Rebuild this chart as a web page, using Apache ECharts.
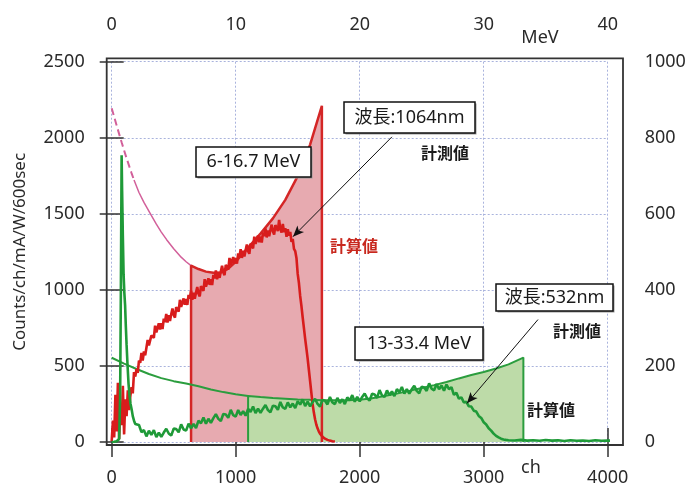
<!DOCTYPE html>
<html><head><meta charset="utf-8">
<script src="https://cdn.jsdelivr.net/npm/echarts@6/dist/echarts.min.js"></script>
<style>html,body{margin:0;padding:0;background:#fff}#c{width:696px;height:487px}</style>
</head><body><div id="c"></div><script>
// ---- data (ch, counts) ----
const chMin = 0, chMax = 4000, chInterval = 1000;
const mevMin = 0, mevMax = 40, mevInterval = 10;
const countsMin = 0, countsMax = 2500, countsInterval = 500;
const rightMin = 0, rightMax = 1000, rightInterval = 200;

// 1064 nm measured spectrum, every 10 ch starting at ch 0
const red1064Step = 10;
const red1064Values = [5,140,30,310,70,390,20,250,110,370,50,280,170,340,210,300,360,320,
460,430,480,455,535,520,585,535,595,570,620,670,635,625,700,705,685,765,720,710,
780,740,780,743,811,789,842,785,833,796,839,877,835,818,886,884,857,935,888,876,
944,902,940,901,967,943,994,935,981,942,983,1019,975,957,1024,1021,993,1070,1022,1009,
1076,1033,1070,1032,1099,1076,1128,1070,1117,1079,1121,1158,1115,1097,1164,1161,1133,1210,1162,1149,
1216,1173,1210,1172,1239,1216,1268,1210,1257,1219,1261,1298,1255,1237,1304,1301,1273,1350,1302,1289,
1356,1313,1350,1311,1377,1353,1404,1345,1391,1352,1393,1429,1385,1363,1426,1419,1387,1460,1401,1377,
1433,1379,1405,1349,1398,1357,1381,1315,1335,1270,1255,1210,1105,1045,960,895,820,750,680,615,
550,475,400,325,250,195,150,115,90,70,55,44,35,28,22,18,14,11,9,7,5,4,3];

// 532 nm measured spectrum: spike region, then every 20 ch from ch 220, then tail
const green532Spike = [[0,0],[20,2],[40,5],[60,20],[68,300],[74,1000],[80,1885],[84,1650],[90,1350],
[96,1100],[102,980],[108,900],[114,760],[120,640],[128,500],[136,380],[144,300],[152,250],[161,214],
[170,170],[180,140],[190,118],[200,105]];
const green532Start = 220, green532Step = 20;
const green532Values = [112,65,78,37,74,47,78,32,62,33,62,87,56,42,88,85,64,116,82,75,
120,90,119,92,140,123,161,120,153,126,157,183,152,138,184,181,159,211,176,167,
210,178,203,173,218,198,233,190,220,191,219,243,210,195,239,235,212,263,227,218,
260,228,253,223,268,246,280,236,265,234,262,284,250,233,277,271,247,296,260,249,
290,256,281,249,293,273,308,265,296,267,296,319,287,272,317,312,290,341,306,296,
339,307,333,302,348,327,362,318,348,318,346,369,336,320,364,359,336,386,350,340,
381,347,371,337,378,347,360,310,323,285,293,260,264,235,233,206,200,171,158,130,
115,90,75,55,40,30,22,17,14,12];
const green532Tail = [[3250,10],[3300,14],[3350,9],[3400,12],[3450,8],[3500,13],[3550,9],[3600,11],
[3650,7],[3700,12],[3750,8],[3800,10],[3850,7],[3900,11],[3950,8],[4000,10],[4050,7],[4100,9]];

// calculated spectra
const redCalcDashed = [[0,2194],[40,2080],[80,1970],[120,1865],[160,1768],[180,1722]];
const redCalcLow = [[180,1722],[220,1640],[260,1575],[309,1505],[360,1432],[400,1380],[443,1330],
[500,1270],[560,1215],[600,1185],[640,1160]];
const redCalcWindow = [[640,0],[640,1160],[700,1137],[760,1120],[820,1112],[880,1115],[940,1140],
[1000,1185],[1100,1278],[1200,1370],[1300,1470],[1400,1592],[1500,1748],[1600,1955],[1695,2210],[1695,0]];
const greenCalcLow = [[0,554],[100,515],[200,480],[300,447],[400,420],[500,400],[600,385],[700,367],
[800,345],[900,328],[1000,314],[1100,303]];
const greenCalcWindow = [[1100,0],[1100,303],[1200,296],[1300,290],[1400,285],[1500,280],[1600,277],
[1700,275],[1800,274],[1900,274],[2000,278],[2100,288],[2200,302],[2300,318],[2400,336],[2500,355],
[2600,374],[2700,394],[2800,418],[2900,440],[3000,460],[3100,483],[3200,510],[3320,555],[3320,0]];

// annotation arrows (ch, counts)
const arrow1064 = [[2260,2006],[1462,1350]];
const arrow532 = [[3438,805],[2865,254]];

// ---- build ----
const red1064 = red1064Values.map((v,i)=>[i*red1064Step, v]);
const green532 = green532Spike.concat(green532Values.map((v,i)=>[green532Start+i*green532Step, v]), green532Tail);

const GL = 111.7, GR = 88.3, GT = 61.7, GB = 44.3;
const tickStyle = {color:'#333', width:1.5};
const labelFont = {color:'#2a2a2a', fontSize:18, fontFamily:'Noto Sans', formatter:(v)=>String(v)};
const gridLine = {show:true, lineStyle:{color:'#a9b3dd', type:[2,2], width:1}};

function box(x,y,w,h,text){
  return [
    {type:'rect', shape:{x:x+1.5,y:y+1.5,width:w,height:h}, style:{fill:'#9a9a9a', stroke:null}, z:100},
    {type:'rect', shape:{x:x,y:y,width:w,height:h}, style:{fill:'#fff', stroke:'#111', lineWidth:1.5}, z:101},
    {type:'text', x:x+w/2, y:y+h/2, style:{text:text, align:'center', verticalAlign:'middle',
      fill:'#1a1a1a', fontSize:18, fontFamily:"'Noto Sans','Noto Sans CJK JP'"}, z:102}
  ];
}
function label(x,y,text,color,align){
  return {type:'text', x:x, y:y, style:{text:text, align:align||'center', verticalAlign:'middle',
    fill:color, fontSize:16, fontFamily:"'Noto Sans CJK JP'", fontWeight:'bold'}, z:102};
}

const chart = echarts.init(document.getElementById('c'), null, {renderer:'canvas'});
chart.setOption({
  animation:false,
  backgroundColor:'#fff',
  grid:{left:GL, right:GR, top:GT, bottom:GB, containLabel:false},
  xAxis:[
    {type:'value', min:chMin, max:chMax, interval:chInterval, position:'bottom', offset:2,
     axisLine:{show:false}, axisTick:{show:true, length:15, lineStyle:tickStyle},
     axisLabel:Object.assign({margin:25}, labelFont), splitLine:gridLine},
    {type:'value', min:mevMin, max:mevMax, interval:mevInterval, position:'top', offset:3.4,
     axisLine:{show:false}, axisTick:{show:true, length:14, lineStyle:tickStyle},
     axisLabel:Object.assign({margin:24}, labelFont), splitLine:{show:false}}
  ],
  yAxis:[
    {type:'value', min:countsMin, max:countsMax, interval:countsInterval, position:'left', offset:5,
     name:'Counts/ch/mA/W/600sec', nameLocation:'middle', nameGap:78,
     nameTextStyle:{color:'#2a2a2a', fontSize:17, fontFamily:'Noto Sans'},
     axisLine:{show:false}, axisTick:{show:true, length:12, lineStyle:tickStyle},
     axisLabel:Object.assign({margin:22}, labelFont), splitLine:gridLine},
    {type:'value', min:rightMin, max:rightMax, interval:rightInterval, position:'right', offset:15,
     axisLine:{show:false}, axisTick:{show:true, length:12, lineStyle:tickStyle},
     axisLabel:Object.assign({margin:22}, labelFont), splitLine:{show:false}}
  ],
  graphic:[
    {type:'rect', shape:{x:106.7,y:58.3,width:516.3,height:386.7}, style:{fill:null, stroke:'#333', lineWidth:1.8}, z:50},
    {type:'text', x:531, y:468, style:{text:'ch', align:'center', verticalAlign:'middle', fill:'#2a2a2a', fontSize:18, fontFamily:'Noto Sans'}},
    {type:'text', x:540, y:38, style:{text:'MeV', align:'center', verticalAlign:'middle', fill:'#2a2a2a', fontSize:18, fontFamily:'Noto Sans'}},
    ...box(196,147,115,30,'6-16.7 MeV'),
    ...box(344,102,131,31,'波長:1064nm'),
    ...box(496,284,117,27,'波長:532nm'),
    ...box(355,327,128,33,'13-33.4 MeV'),
    label(445,153,'計測値','#1a1a1a'),
    label(330,246,'計算値','#c8281e','left'),
    label(577,331,'計測値','#1a1a1a'),
    label(527,410,'計算値','#1a1a1a','left')
  ],
  series:[
    {type:'line', data:redCalcDashed, showSymbol:false, lineStyle:{color:'#d2609a', width:2, type:[7,4]}},
    {type:'line', data:redCalcLow, showSymbol:false, lineStyle:{color:'#d2609a', width:1.5}},
    {type:'line', data:redCalcWindow, showSymbol:false, lineStyle:{color:'#d42626', width:2.5},
     areaStyle:{color:'#e7aab0', opacity:1}},
    {type:'line', data:greenCalcWindow, showSymbol:false, lineStyle:{color:'#2b9d3e', width:2},
     areaStyle:{color:'#bddba8', opacity:1}},
    {type:'line', data:greenCalcLow, showSymbol:false, lineStyle:{color:'#2b9d3e', width:2}},
    {type:'line', data:red1064, showSymbol:false, lineStyle:{color:'#d81c1c', width:2.6},
     markLine:{silent:true, symbol:['none','arrow'], symbolSize:[7,11], animation:false,
       label:{show:false}, lineStyle:{color:'#111', width:1, type:'solid'},
       data:[[{coord:arrow1064[0]},{coord:arrow1064[1]}]]}},
    {type:'line', data:green532, showSymbol:false, lineStyle:{color:'#1f9a38', width:2.6},
     markLine:{silent:true, symbol:['none','arrow'], symbolSize:[7,11], animation:false,
       label:{show:false}, lineStyle:{color:'#111', width:1, type:'solid'},
       data:[[{coord:arrow532[0]},{coord:arrow532[1]}]]}}
  ]
});
</script></body></html>
